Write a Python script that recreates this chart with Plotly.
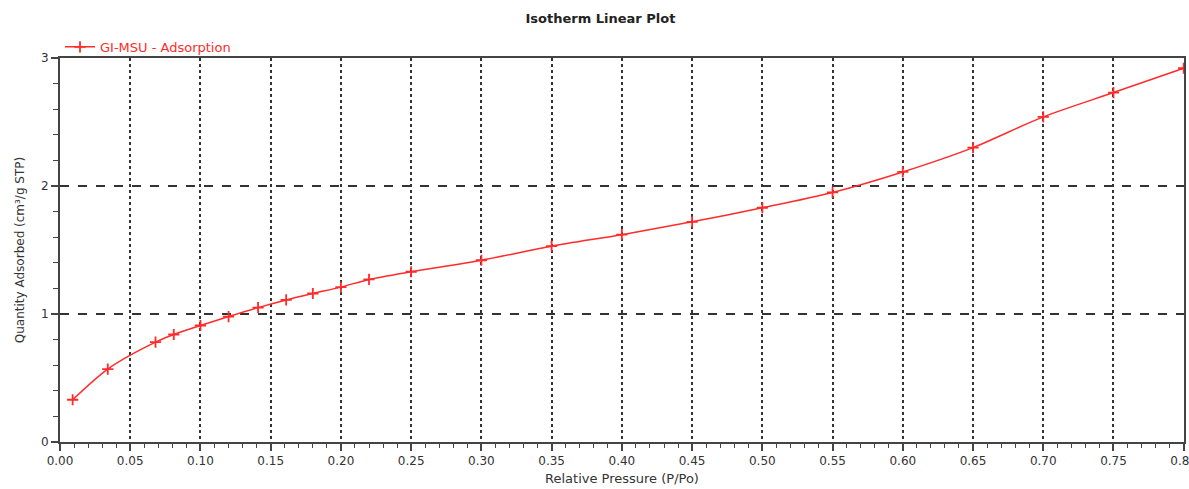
import plotly.graph_objects as go

# Adsorption isotherm: relative pressure vs. quantity adsorbed
rel_pressure = [0.009, 0.034, 0.068, 0.081, 0.100, 0.120, 0.141, 0.161, 0.180,
                0.200, 0.220, 0.250, 0.300, 0.350, 0.400, 0.450, 0.500, 0.550,
                0.600, 0.650, 0.700, 0.750, 0.800]
qty_adsorbed = [0.33, 0.57, 0.78, 0.84, 0.91, 0.98, 1.05, 1.11, 1.16,
                1.21, 1.27, 1.33, 1.42, 1.53, 1.62, 1.72, 1.83, 1.95,
                2.11, 2.30, 2.54, 2.73, 2.92]

x_ticks = [i / 20 for i in range(17)]
x_tick_labels = [f"{v:.2f}" for v in x_ticks]
y_ticks = [0, 1, 2, 3]

red = "#ff2a2a"
axis_col = "#444444"
font_family = "DejaVu Sans"

fig = go.Figure()
fig.add_trace(go.Scatter(
    x=rel_pressure, y=qty_adsorbed,
    mode="lines+markers",
    name="GI-MSU - Adsorption",
    line=dict(color=red, width=1.5, shape="spline", smoothing=0.8),
    marker=dict(symbol="cross-thin", size=8, line=dict(color=red, width=1.8)),
))

fig.update_layout(
    width=1189, height=489,
    margin=dict(l=60, r=5, t=58, b=47, autoexpand=False),
    paper_bgcolor="white", plot_bgcolor="white",
    font=dict(family=font_family, size=12, color="#333333"),
    title=dict(text="<b>Isotherm Linear Plot</b>", x=0.505, xanchor="center",
               y=0.962, yanchor="middle",
               font=dict(family=font_family, size=13, color="#222222")),
    showlegend=True,
    legend=dict(x=0.0, y=0.99, xanchor="left", yanchor="bottom",
                bgcolor="rgba(0,0,0,0)", borderwidth=0,
                font=dict(family=font_family, size=13, color=red),
                itemwidth=30),
)

fig.update_xaxes(
    range=[0, 0.8002], tickvals=x_ticks, ticktext=x_tick_labels,
    ticklabeloverflow="allow", automargin=False,
    showgrid=True, gridcolor="#333333", gridwidth=1.5, griddash="dot",
    showline=True, linecolor=axis_col, linewidth=2, mirror=True,
    ticks="outside", ticklen=7, tickwidth=1.5, tickcolor=axis_col,
    minor=dict(dtick=0.01, ticks="outside", ticklen=4, tickwidth=1, tickcolor=axis_col,
               showgrid=False),
    tickfont=dict(family=font_family, size=12, color="#333333"),
    title=dict(text="Relative Pressure (P/Po)", standoff=6,
               font=dict(family=font_family, size=13, color="#333333")),
    zeroline=False,
)
fig.update_yaxes(
    range=[0, 3], tickvals=y_ticks, automargin=False,
    showgrid=True, gridcolor="#333333", gridwidth=1.5, griddash="dash",
    showline=True, linecolor=axis_col, linewidth=2, mirror=True,
    ticks="outside", ticklen=7, tickwidth=1.5, tickcolor=axis_col,
    minor=dict(dtick=0.2, ticks="outside", ticklen=5, tickwidth=1, tickcolor=axis_col,
               showgrid=False),
    tickfont=dict(family=font_family, size=12, color="#333333"),
    title=dict(text="Quantity Adsorbed (cm³/g STP)", standoff=14,
               font=dict(family=font_family, size=12, color="#333333")),
    zeroline=False,
)

fig.write_html("out.html")
